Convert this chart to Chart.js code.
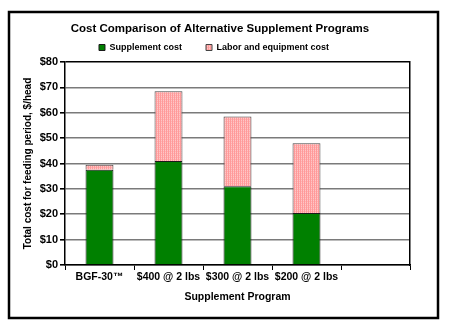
<!DOCTYPE html>
<html>
<head>
<meta charset="utf-8">
<script src="https://cdn.jsdelivr.net/npm/chart.js@4/dist/chart.umd.min.js"></script>
<style>
  html, body { margin: 0; padding: 0; background: #fff; }
  #c { display: block; }
</style>
</head>
<body>
<canvas id="c" width="450" height="327"></canvas>
<script>
const categories = ['BGF-30\u2122', '$400 @ 2 lbs', '$300 @ 2 lbs', '$200 @ 2 lbs', ''];
const supplementCost = [37.5, 41, 31, 20.5, null];
const laborEquipmentCost = [2, 27.5, 27.5, 27.5, null];
const seriesNames = ['Supplement cost', 'Labor and equipment cost'];
const chartTitle = 'Cost Comparison of Alternative Supplement Programs';
const yAxisTitle = 'Total cost for feeding period, $/head';
const xAxisTitle = 'Supplement Program';
const yMin = 0, yMax = 80, yStep = 10;

const FONT = "Arial, 'Liberation Sans', sans-serif";

// pink dotted pattern
function makePattern() {
  const p = document.createElement('canvas');
  p.width = 2; p.height = 2;
  const g = p.getContext('2d');
  g.fillStyle = '#ffc6c6'; g.fillRect(0, 0, 2, 2);
  g.fillStyle = '#ff9a9a'; g.fillRect(0, 0, 1, 2);
  g.fillStyle = '#ffb0b0'; g.fillRect(1, 1, 1, 1);
  return g.createPattern(p, 'repeat');
}
const pinkPattern = makePattern();

const frame = {
  id: 'frame',
  beforeDraw(chart) {
    const ctx = chart.ctx;
    ctx.save();
    ctx.fillStyle = '#fff';
    ctx.fillRect(0, 0, chart.width, chart.height);
    ctx.restore();
  },
  afterDraw(chart) {
    const ctx = chart.ctx;
    ctx.save();
    ctx.strokeStyle = '#000';
    ctx.lineWidth = 2.5;
    ctx.strokeRect(9, 12, 429, 306);
    ctx.restore();
  }
};
const shiftLegend = {
  id: 'shiftLegend',
  afterLayout(chart) {
    chart.legend.left -= 6;
    chart.legend.right -= 6;
  }
};

new Chart(document.getElementById('c'), {
  type: 'bar',
  data: {
    labels: categories,
    datasets: [
      {
        label: seriesNames[0],
        data: supplementCost,
        backgroundColor: '#008000',
        borderColor: '#1a1a1a',
        borderWidth: 1,
        categoryPercentage: 0.5,
        barPercentage: 0.81
      },
      {
        label: seriesNames[1],
        data: laborEquipmentCost,
        backgroundColor: pinkPattern,
        borderColor: '#444',
        borderWidth: 1,
        categoryPercentage: 0.5,
        barPercentage: 0.81
      }
    ]
  },
  options: {
    responsive: false,
    animation: false,
    devicePixelRatio: 1,
    layout: { padding: { left: 18, right: 28, top: 10, bottom: 20 } },
    plugins: {
      title: {
        display: true,
        text: chartTitle,
        color: '#000',
        font: { family: FONT, size: 11.5, weight: 'bold', lineHeight: 1.2 },
        padding: { top: 12, bottom: -16.8 }
      },
      legend: {
        display: true,
        position: 'top',
        labels: {
          color: '#000',
          font: { family: FONT, size: 9, weight: 'bold' },
          boxWidth: 6,
          boxHeight: 6,
          padding: 24
        }
      },
      tooltip: { enabled: false }
    },
    scales: {
      x: {
        stacked: true,
        offset: true,
        grid: {
          display: true,
          offset: true,
          drawOnChartArea: false,
          tickLength: 5,
          color: '#000'
        },
        border: { display: true, color: '#000', width: 1.5 },
        ticks: {
          color: '#000',
          font: { family: FONT, size: 10.5, weight: 'bold' },
          padding: 1,
          maxRotation: 0,
          autoSkip: false
        },
        title: {
          display: true,
          text: xAxisTitle,
          color: '#000',
          font: { family: FONT, size: 10.5, weight: 'bold' },
          padding: { top: 4, bottom: 4 }
        },
        afterFit(scale) { scale.height = 42; }
      },
      y: {
        stacked: true,
        min: yMin,
        max: yMax,
        ticks: {
          stepSize: yStep,
          color: '#000',
          font: { family: FONT, size: 11, weight: 'bold' },
          padding: 2,
          callback: (v) => '$' + v
        },
        grid: {
          color: (ctx) => (ctx.tick && ctx.tick.value === yMax) ? '#000' : '#7a7a7a',
          lineWidth: 1.6,
          tickLength: 5,
          tickColor: '#000'
        },
        border: { display: true, color: '#000', width: 1.5 },
        title: {
          display: true,
          text: yAxisTitle,
          color: '#000',
          font: { family: FONT, size: 10, weight: 'bold' },
          padding: { top: 4, bottom: 4 }
        },
        afterFit(scale) { scale.width = 47; }
      },
      y2: {
        position: 'right',
        min: yMin,
        max: yMax,
        display: true,
        ticks: { display: false },
        grid: { drawOnChartArea: false, drawTicks: false },
        border: { display: true, color: '#000', width: 1.5 },
        afterFit(scale) { scale.width = 12; }
      }
    }
  },
  plugins: [frame, shiftLegend]
});
</script>
</body>
</html>
